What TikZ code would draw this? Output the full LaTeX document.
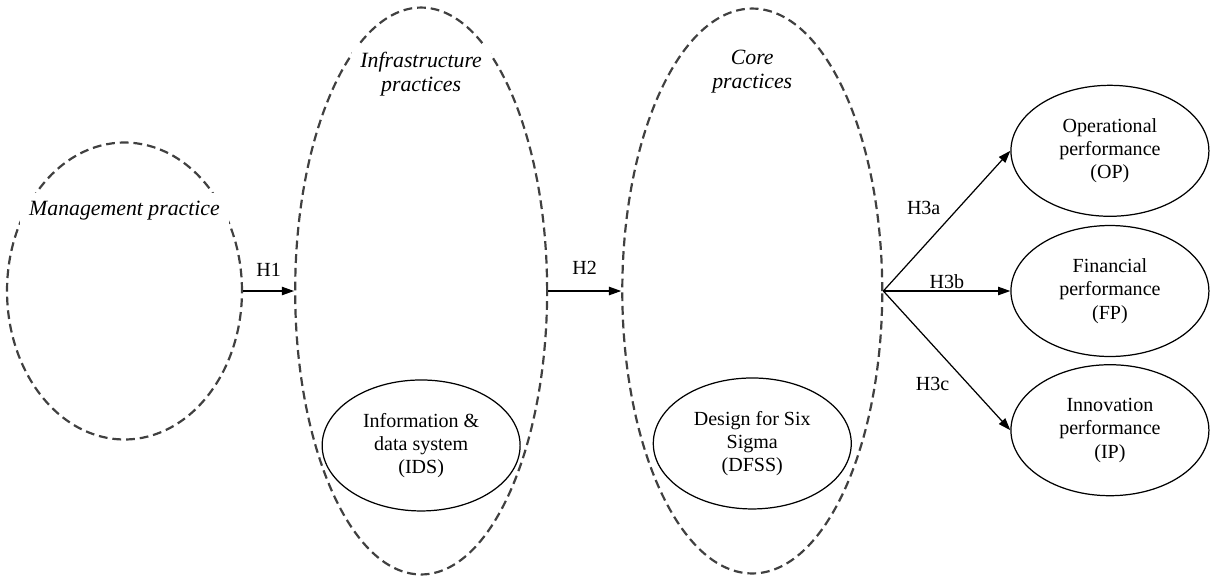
\documentclass[tikz,border=0pt]{standalone}
\usepackage{fontspec}
\setmainfont{Liberation Serif}
\usetikzlibrary{arrows.meta,positioning,shapes.geometric}
\definecolor{cdash}{rgb}{0.25,0.25,0.25}

\begin{document}
\begin{tikzpicture}[x=0.02cm,y=-0.02cm,>={Triangle[length=7pt,width=4.8pt]},
  group node/.style={ellipse,draw=cdash,line width=1.25pt,dash pattern=on 5pt off 2.8pt,inner sep=0pt},
  construct node/.style={ellipse,draw,line width=0.7pt,inner sep=0pt,minimum width=3.96cm,
    minimum height=2.62cm,align=center,font=\fontsize{11.4}{13.3}\selectfont},
  title node/.style={fill=white,inner sep=5pt,align=center,font=\fontsize{12.4}{13.6}\selectfont\itshape}]
  \useasboundingbox (0,0) rectangle (1212,579);

  \node[group node,minimum width=4.7cm,minimum height=5.94cm] (mgmt) at (124.5,291) {};
  \node[group node,minimum width=5.04cm,minimum height=11.34cm] (infra) [right=1.02cm of mgmt] {};
  \node[group node,minimum width=5.2cm,minimum height=11.3cm] (core) [right=1.46cm of infra] {};
  \node[construct node] (ids) [above=1.28cm of infra.south] {Information \&\\data system\\(IDS)};
  \node[construct node] (dfss) [above=1.3cm of core.south] {Design for Six\\Sigma\\(DFSS)};
  \node[construct node] (fp) [right=2.54cm of core] {Financial\\performance\\(FP)};
  \node[construct node] (op) [above=0.16cm of fp] {Operational\\performance\\(OP)};
  \node[construct node] (ip) [below=0.14cm of fp] {Innovation\\performance\\(IP)};

  \node[title node] (mgmt title) at ([yshift=1.6cm]mgmt.center) {Management practice};
  \node[title node] (infra title) at ([yshift=-1.36cm]infra.north) {Infrastructure\\practices};
  \node[title node,fill=none] (core title) at ([yshift=-1.28cm]core.north) {Core\\practices};

  \coordinate (hub) at (core.east);
  \path[->,line width=0.7pt,every node/.style={font=\fontsize{11.4}{13.3}\selectfont}]
    (mgmt) edge node[above=0.16cm] {H1} (infra)
    (infra) edge node[above=0.2cm] {H2} (core)
    (hub) edge node[above left] {H3a} (op.west)
    (hub) edge node[above,inner sep=1pt] {H3b} (fp.west)
    (hub) edge node[below left,pos=0.57] {H3c} (ip.west);
\end{tikzpicture}
\end{document}
